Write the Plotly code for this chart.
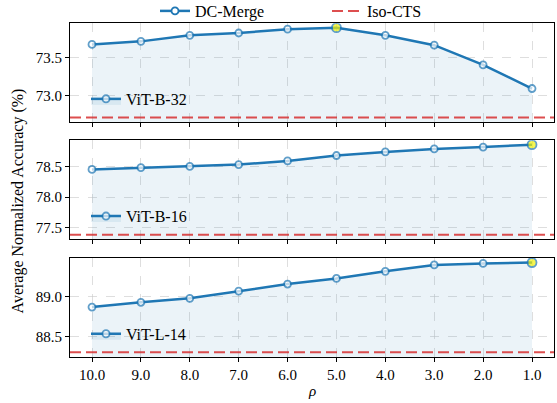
import plotly.graph_objects as go
import numpy as np

# ---------------- data ----------------
rho = [10.0, 9.0, 8.0, 7.0, 6.0, 5.0, 4.0, 3.0, 2.0, 1.0]
rho_labels = ["10.0", "9.0", "8.0", "7.0", "6.0", "5.0", "4.0", "3.0", "2.0", "1.0"]
models = ["ViT-B-32", "ViT-B-16", "ViT-L-14"]
dc_vit_b32 = [73.67, 73.71, 73.79, 73.82, 73.87, 73.89, 73.79, 73.66, 73.40, 73.09]
dc_vit_b16 = [78.46, 78.49, 78.51, 78.54, 78.60, 78.69, 78.75, 78.80, 78.83, 78.87]
dc_vit_l14 = [88.87, 88.93, 88.98, 89.07, 89.16, 89.23, 89.32, 89.40, 89.42, 89.43]
iso_cts = [72.71, 77.38, 88.30]
yticks_b32 = [73.0, 73.5]
yticks_b16 = [77.5, 78.0, 78.5]
yticks_l14 = [88.5, 89.0]

series = [dc_vit_b32, dc_vit_b16, dc_vit_l14]
yticks = [yticks_b32, yticks_b16, yticks_l14]

# ---------------- style ----------------
W, H = 557, 403
M_L, M_R, M_T, M_B = 70, 3, 22.5, 45.5
plot_h = H - M_T - M_B
plot_w = W - M_L - M_R
FONT = "Liberation Serif, Times New Roman, serif"
BLUE = "#1f77b4"
RED = "rgba(214,39,40,0.82)"
FILL = "rgba(31,119,180,0.09)"
GRID = "rgba(200,200,200,0.6)"

panel_px = [(22.7, 121.7), (140.0, 239.3), (258.3, 357.3)]
domains = [[(H - M_B - b) / plot_h, (H - M_B - t) / plot_h] for t, b in panel_px]
domains = [[max(0, d0), min(1, d1)] for d0, d1 in domains]

xpad = 0.05 * (max(rho) - min(rho))
xrange_ = [max(rho) + xpad, min(rho) - xpad]

fig = go.Figure()

# top legend entry for DC-Merge
fig.add_trace(go.Scatter(
    x=[None], y=[None], mode="lines+markers", name="DC-Merge",
    line=dict(color=BLUE, width=2.5),
    marker=dict(symbol="circle", size=7, color="white", line=dict(color=BLUE, width=1.8)),
    legend="legend", legendrank=1, showlegend=True))

layout_axes = {}
for i, (vals, name, iso, tks, dom) in enumerate(zip(series, models, iso_cts, yticks, domains)):
    n = i + 1
    xa = "x" if n == 1 else f"x{n}"
    ya = "y" if n == 1 else f"y{n}"
    lg = f"legend{n + 1}"
    imax = int(np.argmax(vals))
    colors = ["white"] * len(vals)
    colors[imax] = "#f2f20a"
    sizes = [7] * len(vals)
    sizes[imax] = 9
    fig.add_trace(go.Scatter(
        x=rho, y=vals, xaxis=xa, yaxis=ya, mode="lines+markers", name=name,
        fill="tozeroy", fillcolor=FILL,
        line=dict(color=BLUE, width=2.5),
        marker=dict(symbol="circle", size=sizes, color=colors, line=dict(color=BLUE, width=1.8)),
        legend=lg, showlegend=True))
    fig.add_shape(type="line", xref=f"{xa} domain", yref=ya, x0=0, x1=1, y0=iso, y1=iso,
                  line=dict(color=RED, width=2, dash="11px,5px"),
                  name="Iso-CTS", legend="legend", legendrank=2, showlegend=(i == 0),
                  layer="above")
    lo = min(min(vals), iso)
    hi = max(vals)
    pad = 0.05 * (hi - lo)
    axkey = "xaxis" if n == 1 else f"xaxis{n}"
    aykey = "yaxis" if n == 1 else f"yaxis{n}"
    layout_axes[axkey] = dict(
        domain=[0, 1], anchor=ya, range=xrange_, tickvals=rho, ticktext=rho_labels,
        showticklabels=(n == 3), ticks="outside", ticklen=4, tickcolor="black",
        showline=True, linecolor="black", linewidth=1, mirror=True,
        showgrid=True, gridcolor=GRID, griddash="dash", gridwidth=1, zeroline=False,
        tickfont=dict(family=FONT, size=15, color="black"))
    layout_axes[aykey] = dict(
        domain=dom, anchor=xa, range=[lo - pad, hi + pad], tickvals=tks,
        ticktext=[f"{t:.1f}" for t in tks],
        ticks="outside", ticklen=4, tickcolor="black",
        showline=True, linecolor="black", linewidth=1, mirror=True,
        showgrid=True, gridcolor=GRID, griddash="dash", gridwidth=1, zeroline=False,
        tickfont=dict(family=FONT, size=15, color="black"))
    layout_axes[lg] = dict(
        x=16 / plot_w, xanchor="left", y=dom[0] + 23 / plot_h, yanchor="middle",
        bgcolor="rgba(0,0,0,0)", font=dict(family=FONT, size=16, color="black"),
        itemwidth=30)

fig.update_layout(
    width=W, height=H,
    margin=dict(l=M_L, r=M_R, t=M_T, b=M_B, autoexpand=False),
    paper_bgcolor="white", plot_bgcolor="white",
    font=dict(family=FONT, size=15, color="black"),
    legend=dict(orientation="h", xref="container", yref="container",
                x=(163 - 8) / W, xanchor="left", y=1 - 11 / H, yanchor="middle",
                entrywidth=127, entrywidthmode="pixels",
                bgcolor="rgba(0,0,0,0)", font=dict(family=FONT, size=16, color="black")),
    annotations=[
        dict(text="Average Normalized Accuracy (%)", textangle=-90,
             xref="paper", yref="paper", x=(18 - M_L) / plot_w,
             y=(H - M_B - H / 2) / plot_h, xanchor="center", yanchor="middle",
             showarrow=False, font=dict(family=FONT, size=16, color="black")),
        dict(text="<i>ρ</i>", xref="paper", yref="paper", x=0.5,
             y=(H - M_B - 392) / plot_h, xanchor="center", yanchor="middle",
             showarrow=False, font=dict(family=FONT, size=15, color="black")),
    ],
    **layout_axes)

fig.write_html("out.html", config={"displayModeBar": False},
               post_script="document.body.style.margin='0px';")
